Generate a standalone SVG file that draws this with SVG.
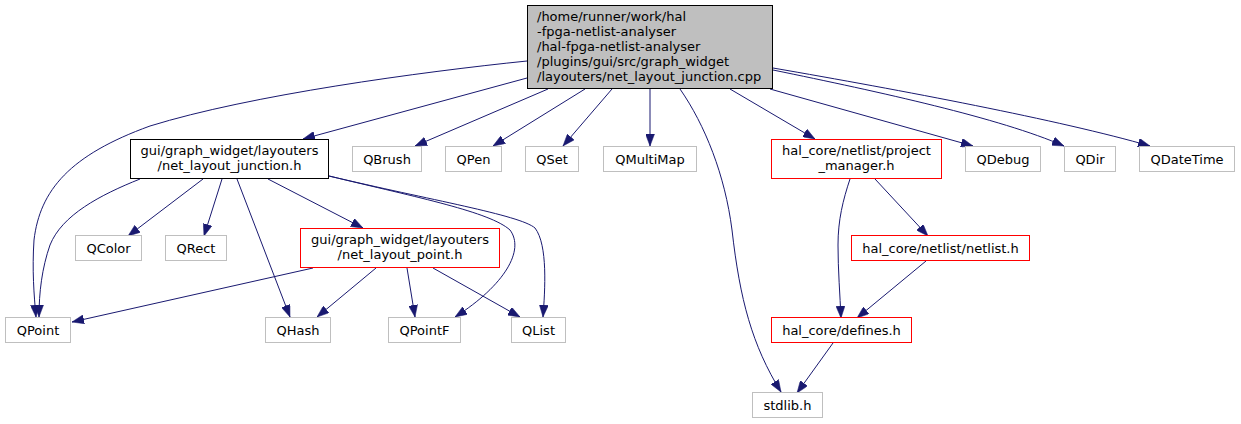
<svg xmlns="http://www.w3.org/2000/svg" width="1241" height="424" viewBox="0 0 1241 424">
<defs>
<marker id="arr" markerUnits="userSpaceOnUse" markerWidth="12" markerHeight="9" viewBox="0 0 12 9" refX="12" refY="4.5" orient="auto">
<path d="M0,0 L12,4.5 L0,9 z" fill="#191970" stroke="#191970" stroke-width="0.5"/>
</marker>
</defs>
<style>
.n rect{stroke-width:1}
.g rect{fill:#ffffff;stroke:#bfbfbf}
.k rect{fill:#ffffff;stroke:#000000}
.r rect{fill:#ffffff;stroke:#ff0000}
.root rect{fill:#bfbfbf;stroke:#000000}
text{font-family:"DejaVu Sans","Liberation Sans",sans-serif;font-size:13px;fill:#000000}
.c{text-anchor:middle}
#edges path{fill:none;stroke:#191970;stroke-width:1;marker-end:url(#arr)}
</style>
<rect width="1241" height="424" fill="#ffffff"/>
<g id="edges">
<path d="M527,78 L303,139"/>
<path d="M548,89 L415,146"/>
<path d="M585,89 L493,146"/>
<path d="M612,89 L563,146"/>
<path d="M650,89 L650,146"/>
<path d="M680,89 C705,125 725,175 732,230 C740,300 752,345 781,392"/>
<path d="M730,89 L815,139"/>
<path d="M770,89 L973,146"/>
<path d="M773,70 C880,92 1000,118 1064,146"/>
<path d="M773,68 C900,90 1060,120 1150,146"/>
<path d="M527,61 C420,72 250,95 150,126 C70,155 40,190 34,240 C32,270 34,295 36,317"/>
<path d="M140,179 C100,195 62,215 50,245 C42,268 39,292 39,317"/>
<path d="M203,179 L128,236"/>
<path d="M222,179 L204,236"/>
<path d="M237,179 L290,317"/>
<path d="M268,179 L363,228"/>
<path d="M329,176 C420,198 490,212 510,230 C525,250 505,285 455,317"/>
<path d="M329,176 C430,200 520,215 535,228 C548,245 545,290 543,317"/>
<path d="M313,268 L72,322"/>
<path d="M376,268 L317,317"/>
<path d="M407,268 L415,317"/>
<path d="M433,268 L520,317"/>
<path d="M850,179 C843,200 838,220 838,245 C838,270 840,295 841,318"/>
<path d="M875,179 L928,236"/>
<path d="M926,261 L857,318"/>
<path d="M833,343 L797,393"/>
</g>
<g id="root" class="n root">
<rect x="527.5" y="5.5" width="245" height="83"/>
<text x="537" y="21">/home/runner/work/hal</text>
<text x="537" y="36">-fpga-netlist-analyser</text>
<text x="537" y="51">/hal-fpga-netlist-analyser</text>
<text x="537" y="66">/plugins/gui/src/graph_widget</text>
<text x="537" y="81">/layouters/net_layout_junction.cpp</text>
</g>
<g id="junction" class="n k">
<rect x="130.5" y="139.5" width="198" height="39"/>
<text class="c" x="229.5" y="155">gui/graph_widget/layouters</text>
<text class="c" x="229.5" y="170">/net_layout_junction.h</text>
</g>
<g id="qbrush" class="n g"><rect x="352.5" y="146.5" width="69" height="25"/><text class="c" x="387" y="163.5">QBrush</text></g>
<g id="qpen" class="n g"><rect x="445.5" y="146.5" width="56" height="25"/><text class="c" x="473.5" y="163.5">QPen</text></g>
<g id="qset" class="n g"><rect x="525.5" y="146.5" width="53" height="25"/><text class="c" x="552" y="163.5">QSet</text></g>
<g id="qmultimap" class="n g"><rect x="603.5" y="146.5" width="93" height="25"/><text class="c" x="650" y="163.5">QMultiMap</text></g>
<g id="project_manager" class="n r">
<rect x="771.5" y="139.5" width="170" height="39"/>
<text class="c" x="856.5" y="155">hal_core/netlist/project</text>
<text class="c" x="856.5" y="170">_manager.h</text>
</g>
<g id="qdebug" class="n g"><rect x="965.5" y="146.5" width="75" height="25"/><text class="c" x="1003" y="163.5">QDebug</text></g>
<g id="qdir" class="n g"><rect x="1064.5" y="146.5" width="51" height="25"/><text class="c" x="1090" y="163.5">QDir</text></g>
<g id="qdatetime" class="n g"><rect x="1139.5" y="146.5" width="95" height="25"/><text class="c" x="1187" y="163.5">QDateTime</text></g>
<g id="qcolor" class="n g"><rect x="75.5" y="235.5" width="66" height="25"/><text class="c" x="108.5" y="252.5">QColor</text></g>
<g id="qrect" class="n g"><rect x="165.5" y="235.5" width="61" height="25"/><text class="c" x="196" y="252.5">QRect</text></g>
<g id="net_layout_point" class="n r">
<rect x="300.5" y="228.5" width="199" height="39"/>
<text class="c" x="400" y="244">gui/graph_widget/layouters</text>
<text class="c" x="400" y="259">/net_layout_point.h</text>
</g>
<g id="netlist" class="n r"><rect x="851.5" y="235.5" width="178" height="25"/><text class="c" x="940.5" y="252.5">hal_core/netlist/netlist.h</text></g>
<g id="qpoint" class="n g"><rect x="5.5" y="317.5" width="65" height="25"/><text class="c" x="38" y="334.5">QPoint</text></g>
<g id="qhash" class="n g"><rect x="265.5" y="317.5" width="65" height="25"/><text class="c" x="298" y="334.5">QHash</text></g>
<g id="qpointf" class="n g"><rect x="388.5" y="317.5" width="72" height="25"/><text class="c" x="424.5" y="334.5">QPointF</text></g>
<g id="qlist" class="n g"><rect x="511.5" y="317.5" width="54" height="25"/><text class="c" x="538.5" y="334.5">QList</text></g>
<g id="defines" class="n r"><rect x="771.5" y="317.5" width="140" height="25"/><text class="c" x="841.5" y="334.5">hal_core/defines.h</text></g>
<g id="stdlib" class="n g"><rect x="752.5" y="392.5" width="70" height="25"/><text class="c" x="787.5" y="409.5">stdlib.h</text></g>
</svg>
